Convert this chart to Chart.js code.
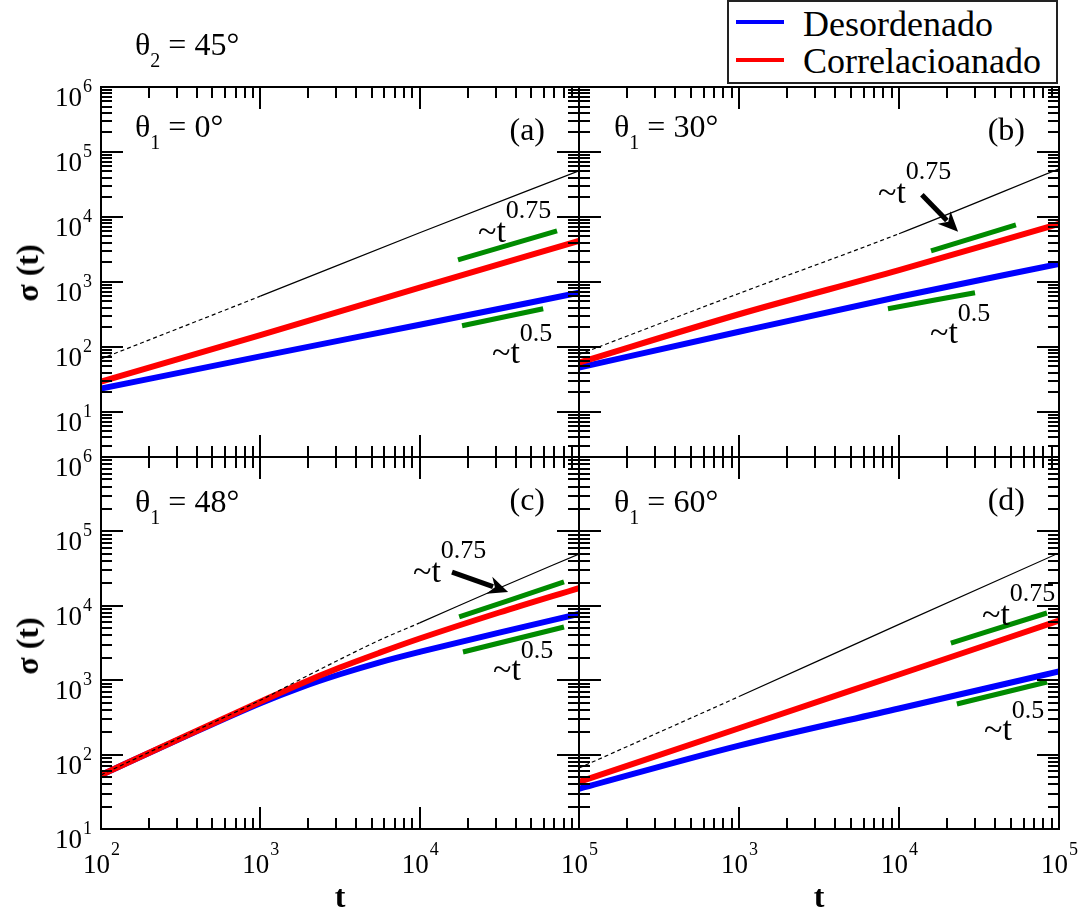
<!DOCTYPE html>
<html>
<head>
<meta charset="utf-8">
<title>sigma(t)</title>
<script src="https://cdn.jsdelivr.net/npm/chart.js@4.4.1/dist/chart.umd.min.js"></script>
<style>
html,body{margin:0;padding:0;background:#fff;}
#fig{position:relative;width:1084px;height:917px;overflow:hidden;background:#fff;font-family:"Liberation Serif","Times New Roman",serif;color:#000;}
#fig canvas{position:absolute;left:0;top:0;}
.tx{position:absolute;white-space:nowrap;line-height:1;font-family:"Liberation Serif","Times New Roman",serif;}
.sb{position:relative;line-height:0;}
#legend{position:absolute;left:727px;top:0px;width:327px;height:80px;border:2px solid #222;background:#fff;}
.lg{position:absolute;height:4px;width:48px;}
</style>
</head>
<body>
<div id="fig">
<canvas id="cA" width="1084" height="917"></canvas>
<canvas id="cB" width="1084" height="917"></canvas>
<canvas id="cC" width="1084" height="917"></canvas>
<canvas id="cD" width="1084" height="917"></canvas>
</div>
<script>
// ---------------- data ----------------
// panel (a) theta1 = 0
const tA      = [100, 1000, 10000, 100000];
const blueA   = [22.6, 71, 218, 676];
const redA    = [29, 151, 809, 4270];
const blackA  = [65, 600, 5680, 51300];
const gHiA_t  = [17400, 72800]; const gHiA = [2180, 6100];
const gLoA_t  = [18450, 59600]; const gLoA = [210, 385];

// panel (b) theta1 = 30
const tB      = [100, 1000, 10000, 100000];
const blueB   = [47.5, 170, 589, 1890];
const redB    = [56.8, 316, 1510, 7760];
const blackB  = [76, 661, 5500, 55000];
const gHiB_t  = [15850, 53800]; const gHiB = [3000, 7530];
const gLoB_t  = [8530, 29850];  const gLoB = [385, 678];
const arrowB  = [13900, 21800, 23400, 5880];

// panel (c) theta1 = 48
const tC      = [100, 316, 1000, 1780, 3160, 5620, 10000, 31600, 100000];
const blueC   = [53.2, 164, 490, 794, 1202, 1738, 2399, 4365, 7762];
const redC    = [53.2, 166, 513, 891, 1479, 2344, 3631, 8128, 17340];
const blackC  = [53.2, 170, 537, 1023, 1905, 3467, 5888, 17378, 49659];
const gHiC_t  = [17700, 80500]; const gHiC = [7080, 20900];
const gLoC_t  = [18700, 80500]; const gLoC = [2390, 5190];
const arrowC  = [15960, 28400, 35900, 15300];

// panel (d) theta1 = 60
const tD      = [100, 1000, 10000, 100000];
const blueD   = [34.7, 132, 417, 1310];
const redD    = [42.9, 226, 1194, 6310];
const blackD  = [66, 603, 5623, 51300];
const gHiD_t  = [21100, 84100]; const gHiD = [3160, 8000];
const gLoD_t  = [23000, 84100]; const gLoD = [479, 946];

// labels
const seriesNames  = ['Desordenado', 'Correlacioanado'];
const theta1Values = ['0°', '30°', '48°', '60°'];
const panelLetters = ['(a)', '(b)', '(c)', '(d)'];
const theta2Value  = '45°';
const yTickExps    = [1, 2, 3, 4, 5, 6];
const xTickExpsL   = [2, 3, 4, 5];
const xTickExpsR   = [3, 4, 5];
const slopeHi = '0.75', slopeLo = '0.5';

// ---------------- layout ----------------
const W = 1084, H = 917;
const SERIF = '"Liberation Serif","Times New Roman",serif';
const BLUE = 'rgb(0,0,255)', RED = 'rgb(255,0,0)', GREEN = 'rgb(0,139,0)';
const rects = {
  cA: {l:101, r:579, t:87,  b:457},
  cB: {l:579, r:1059, t:87, b:457},
  cC: {l:101, r:579, t:457, b:829},
  cD: {l:579, r:1059, t:457, b:829}
};
const meta = {};

function pts(t, v){ return t.map((x,i)=>({x:x, y:v[i]})); }

function logTicks(min, max){
  const out = [];
  for (let e = Math.floor(Math.log10(min)) - 1; e <= Math.ceil(Math.log10(max)); e++){
    for (let m = 1; m <= 9; m++){
      const v = m * Math.pow(10, e);
      if (v >= min*0.9999 && v <= max*1.0001) out.push([v, m === 1]);
    }
  }
  return out;
}

const framePlugin = {
  id: 'frameTicks',
  afterDatasetsDraw(chart){
    const m = meta[chart.canvas.id];
    const ctx = chart.ctx, a = chart.chartArea;
    const x = chart.scales.x, y = chart.scales.y;
    ctx.save();
    // arrows
    ctx.fillStyle = '#000'; ctx.strokeStyle = '#000';
    (m.arrows || []).forEach(ar => {
      const x0 = x.getPixelForValue(ar[0]), y0 = y.getPixelForValue(ar[1]);
      const x1 = x.getPixelForValue(ar[2]), y1 = y.getPixelForValue(ar[3]);
      const ang = Math.atan2(y1 - y0, x1 - x0);
      const hl = 20, hw = 9;
      const bx = x1 - hl*Math.cos(ang), by = y1 - hl*Math.sin(ang);
      ctx.lineWidth = 5; ctx.lineCap = 'butt';
      ctx.beginPath(); ctx.moveTo(x0, y0); ctx.lineTo(bx + 4*Math.cos(ang), by + 4*Math.sin(ang)); ctx.stroke();
      ctx.beginPath(); ctx.moveTo(x1, y1);
      ctx.lineTo(bx + hw*Math.sin(ang), by - hw*Math.cos(ang));
      ctx.lineTo(bx + 6*Math.cos(ang), by + 6*Math.sin(ang));
      ctx.lineTo(bx - hw*Math.sin(ang), by + hw*Math.cos(ang));
      ctx.closePath(); ctx.fill();
    });
    // ticks
    ctx.strokeStyle = '#000'; ctx.lineWidth = 2; ctx.lineCap = 'butt';
    ctx.beginPath();
    logTicks(x.min, x.max).forEach(([v, maj]) => {
      const p = Math.round(x.getPixelForValue(v)); const L = maj ? 22 : 11;
      ctx.moveTo(p, a.bottom); ctx.lineTo(p, a.bottom - L);
      ctx.moveTo(p, a.top); ctx.lineTo(p, a.top + L);
    });
    logTicks(y.min, y.max).forEach(([v, maj]) => {
      const p = Math.round(y.getPixelForValue(v)); const L = maj ? 22 : 11;
      ctx.moveTo(a.left, p); ctx.lineTo(a.left + L, p);
      ctx.moveTo(a.right, p); ctx.lineTo(a.right - L, p);
    });
    ctx.stroke();
    ctx.strokeRect(a.left, a.top, a.right - a.left, a.bottom - a.top);
    // tick labels
    ctx.fillStyle = '#000'; ctx.textBaseline = 'alphabetic';
    (m.yExps || []).forEach(e => {
      const p = y.getPixelForValue(Math.pow(10, e));
      ctx.font = '27px ' + SERIF; ctx.textAlign = 'right';
      ctx.fillText('10', a.left - 19, p + 19);
      ctx.font = '18px ' + SERIF; ctx.textAlign = 'left';
      ctx.fillText(String(e), a.left - 18, p + 5);
    });
    (m.xExps || []).forEach(e => {
      const p = x.getPixelForValue(Math.pow(10, e));
      ctx.font = '27px ' + SERIF; ctx.textAlign = 'right';
      ctx.fillText('10', p + 9, a.bottom + 44);
      ctx.font = '18px ' + SERIF; ctx.textAlign = 'left';
      ctx.fillText(String(e), p + 10, a.bottom + 26);
    });
    ctx.restore();
  }
};

function makePanel(id, yMin, t, blue, red, black, dashUntil, gHiT, gHi, gLoT, gLo, xExps, yExps, arrows){
  const r = rects[id];
  meta[id] = {xExps, yExps, arrows};
  const line = (data, color, w) => ({data, borderColor: color, backgroundColor: color, borderWidth: w,
    pointRadius: 0, fill: false, cubicInterpolationMode: 'monotone'});
  const blk = line(pts(t, black), '#000', 1.2);
  blk.segment = { borderDash: c => (c.p1.parsed.x <= dashUntil ? [4, 3] : undefined) };
  return new Chart(document.getElementById(id), {
    type: 'line',
    data: { datasets: [
      blk,
      line(pts(t, red), RED, 6),
      line(pts(t, blue), BLUE, 6),
      line(pts(gHiT, gHi), GREEN, 5),
      line(pts(gLoT, gLo), GREEN, 5)
    ]},
    options: {
      responsive: false, animation: false, events: [],
      parsing: { xAxisKey: 'x', yAxisKey: 'y' },
      layout: { padding: { left: r.l, top: r.t, right: W - r.r, bottom: H - r.b } },
      scales: {
        x: { type: 'logarithmic', min: 100, max: 100000, display: false },
        y: { type: 'logarithmic', min: yMin, max: 1e6, display: false }
      },
      plugins: { legend: { display: false }, tooltip: { enabled: false } }
    },
    plugins: [framePlugin]
  });
}

makePanel('cA', 2,  tA, blueA, redA, blackA, 1000,  gHiA_t, gHiA, gLoA_t, gLoA, [], yTickExps, []);
makePanel('cB', 2,  tB, blueB, redB, blackB, 10000, gHiB_t, gHiB, gLoB_t, gLoB, [], [], [arrowB]);
makePanel('cC', 10, tC, blueC, redC, blackC, 10000, gHiC_t, gHiC, gLoC_t, gLoC, xTickExpsL, yTickExps, [arrowC]);
makePanel('cD', 10, tD, blueD, redD, blackD, 1000,  gHiD_t, gHiD, gLoD_t, gLoD, xTickExpsR, [], []);

// ---------------- text overlays ----------------
const fig = document.getElementById('fig');
const ASC = 0.8375;
function addText(html, x, base, size, opt){
  opt = opt || {};
  const s = document.createElement('div');
  s.className = 'tx';
  s.innerHTML = html;
  s.style.fontSize = size + 'px';
  s.style.top = (base - ASC*size) + 'px';
  if (opt.align === 'right') s.style.right = (W - x) + 'px';
  else if (opt.align === 'center') { s.style.left = x + 'px'; s.style.transform = 'translateX(-50%)'; }
  else s.style.left = x + 'px';
  if (opt.bold) s.style.fontWeight = 'bold';
  fig.appendChild(s);
  return s;
}
function sub(txt, size, dy){ return '<span class="sb" style="font-size:'+size+'px;top:'+dy+'px">'+txt+'</span>'; }

addText('θ' + sub('2', 20, 12) + ' = ' + theta2Value, 135, 55, 32);

const thetaPos = [[135,137],[614,137],[135,512],[614,512]];
const letterPos = [[545,140],[1025,140],[545,510],[1025,510]];
for (let i = 0; i < 4; i++){
  addText('θ' + sub('1', 20, 12) + ' = ' + theta1Values[i], thetaPos[i][0], thetaPos[i][1], 32);
  addText(panelLetters[i], letterPos[i][0], letterPos[i][1], 32, {align:'right'});
}

// power-law labels: [x, baseline] of "~t"
const hiLab = [[478,242],[878,203],[413,582],[982,625]];
const loLab = [[492,363],[930,343],[493,680],[984,740]];
for (let i = 0; i < 4; i++){
  addText('~t' + sub(slopeHi, 26, -24), hiLab[i][0], hiLab[i][1], 34);
  addText('~t' + sub(slopeLo, 26, -22), loLab[i][0], loLab[i][1], 34);
}

// axis titles
[273, 646].forEach(cy => {
  const d = document.createElement('div');
  d.className = 'tx'; d.textContent = 'σ (t)';
  d.style.fontSize = '32px'; d.style.fontWeight = 'bold';
  d.style.left = '27px'; d.style.top = cy + 'px';
  d.style.transform = 'translate(-50%,-50%) rotate(-90deg)';
  fig.appendChild(d);
});
addText('t', 340, 907, 32, {align:'center', bold:true});
addText('t', 819, 907, 32, {align:'center', bold:true});

// legend
const lg = document.createElement('div'); lg.id = 'legend'; fig.appendChild(lg);
[[BLUE, 22, 36], [RED, 60, 73]].forEach((row, i) => {
  const l = document.createElement('div'); l.className = 'lg';
  l.style.background = row[0]; l.style.left = (736 - 729) + 'px'; l.style.top = (row[1] - 2 - 2) + 'px';
  lg.appendChild(l);
  addText(seriesNames[i], 803, row[2], 36);
});
</script>
</body>
</html>
